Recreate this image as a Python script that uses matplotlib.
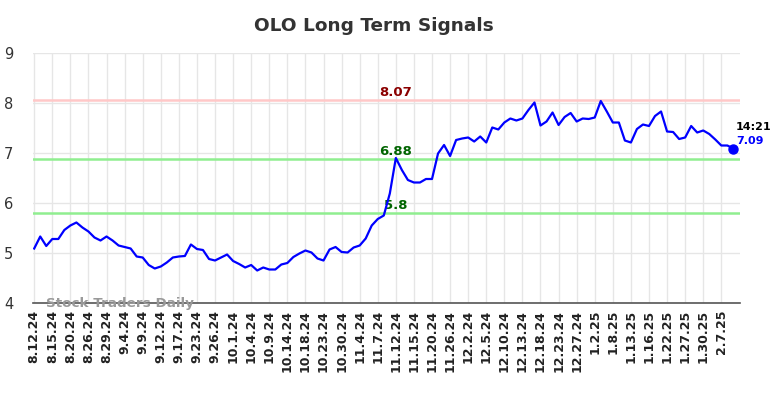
import matplotlib
matplotlib.use('Agg')
import matplotlib.pyplot as plt

# dates shown on the x axis (one every 3 points)
tick_labels = ['8.12.24', '8.15.24', '8.20.24', '8.26.24', '8.29.24', '9.4.24', '9.9.24',
               '9.12.24', '9.17.24', '9.23.24', '9.26.24', '10.1.24', '10.4.24', '10.9.24',
               '10.14.24', '10.18.24', '10.23.24', '10.30.24', '11.4.24', '11.7.24',
               '11.12.24', '11.15.24', '11.20.24', '11.26.24', '12.2.24', '12.5.24',
               '12.10.24', '12.13.24', '12.18.24', '12.23.24', '12.27.24', '1.2.25',
               '1.8.25', '1.13.25', '1.16.25', '1.22.25', '1.27.25', '1.30.25', '2.7.25']

# preços
precos = [5.09, 5.33, 5.14, 5.28, 5.28, 5.46, 5.55, 5.61, 5.51, 5.43,
          5.31, 5.25, 5.33, 5.25, 5.15, 5.12, 5.09, 4.93, 4.91, 4.76,
          4.69, 4.73, 4.81, 4.91, 4.93, 4.94, 5.17, 5.08, 5.06, 4.88,
          4.85, 4.91, 4.97, 4.84, 4.78, 4.71, 4.76, 4.65, 4.71, 4.67,
          4.67, 4.77, 4.80, 4.92, 4.99, 5.05, 5.01, 4.89, 4.85, 5.07,
          5.12, 5.02, 5.01, 5.11, 5.15, 5.29, 5.55, 5.68, 5.75, 6.19,
          6.90, 6.66, 6.46, 6.41, 6.41, 6.48, 6.48, 6.99, 7.16, 6.94,
          7.26, 7.29, 7.31, 7.23, 7.33, 7.21, 7.51, 7.47, 7.61, 7.69,
          7.65, 7.69, 7.86, 8.01, 7.55, 7.63, 7.81, 7.56, 7.72, 7.80,
          7.63, 7.69, 7.68, 7.71, 8.04, 7.83, 7.61, 7.61, 7.25, 7.21,
          7.48, 7.57, 7.54, 7.74, 7.83, 7.43, 7.42, 7.28, 7.31, 7.54,
          7.41, 7.45, 7.38, 7.27, 7.15, 7.15, 7.09]

resistencia = 8.07
suportes = [6.88, 5.8]
hora = '14:21'

fig = plt.figure(figsize=(7.84, 3.98), dpi=100)
ax = fig.add_axes([33 / 784, 95 / 398, 707 / 784, 250 / 398])

x = list(range(len(precos)))
ax.plot(x, precos, color='#0000ff', lw=1.6, zorder=4)
ax.plot(x[-1], precos[-1], 'o', color='#0000ff', ms=6.5, zorder=5)

# linhas de sinal
ax.axhline(resistencia, color='#ffc8c8', lw=1.8, zorder=3)
for s in suportes:
    ax.axhline(s, color='#90ee90', lw=1.8, zorder=3)

xl = 60
ax.text(xl, resistencia + 0.02, f'{resistencia:.2f}', color='#8b0000', fontsize=9.5,
        fontweight='bold', ha='center', va='bottom')
ax.text(xl, suportes[0] + 0.02, f'{suportes[0]:.2f}', color='#006400', fontsize=9.5,
        fontweight='bold', ha='center', va='bottom')
ax.text(xl, suportes[1] + 0.02, f'{suportes[1]:g}', color='#006400', fontsize=9.5,
        fontweight='bold', ha='center', va='bottom')

# rótulo do último ponto
ax.text(len(precos) - 0.6, precos[-1] + 0.44, hora, color='black', fontsize=8,
        fontweight='bold', ha='left', va='center', clip_on=False)
ax.text(len(precos) - 0.6, precos[-1] + 0.16, f'{precos[-1]:.2f}', color='#0000ff',
        fontsize=8, fontweight='bold', ha='left', va='center', clip_on=False)

ax.text(2, 4.0, 'Stock Traders Daily', color='#999999', fontsize=9.7,
        fontweight='bold', ha='left', va='center', zorder=6)

ax.set_xlim(-0.2, 117.1)
ax.set_ylim(4, 9)
ax.set_xticks(range(0, 3 * len(tick_labels), 3))
ax.set_xticklabels(tick_labels, rotation=90, fontsize=9, fontweight='bold', color='#222222')
ax.set_yticks(range(4, 10))
ax.tick_params(axis='y', length=0, pad=14, labelsize=10.5, labelcolor='#333333')
ax.tick_params(axis='x', length=0, pad=5)
ax.grid(True, color='#e6e6e6', lw=1, zorder=0)
for lado in ['top', 'right', 'left']:
    ax.spines[lado].set_visible(False)
ax.spines['bottom'].set_color('#555555')
ax.spines['bottom'].set_linewidth(1.2)

fig.text(374 / 784, 1 - 26 / 398, 'OLO Long Term Signals', fontsize=13.3, fontweight='bold',
         color='#333333', ha='center', va='center')

fig.savefig('out.png', dpi=100)
